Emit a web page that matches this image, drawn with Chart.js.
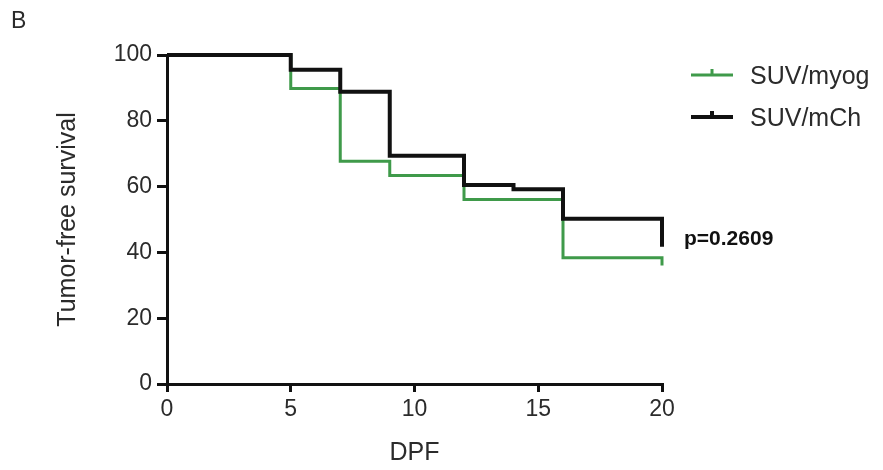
<!DOCTYPE html>
<html>
<head>
<meta charset="utf-8">
<script src="https://cdn.jsdelivr.net/npm/chart.js@4/dist/chart.umd.min.js"></script>
<style>
  html, body { margin: 0; padding: 0; background: #fff; }
  #wrap { width: 883px; height: 470px; position: relative; }
</style>
</head>
<body>
<div id="wrap"><canvas id="kmChart"></canvas></div>
<script>
// survival steps (day, % tumor-free)
const myogDays = [0, 5, 7, 9, 12, 16, 20];
const myogSurvival = [100, 89.8, 67.7, 63.4, 56.1, 38.4, 36.0];
const mchDays = [0, 5, 7, 9, 12, 14, 16, 20];
const mchSurvival = [100, 95.5, 88.8, 69.4, 60.5, 59.2, 50.2, 41.7];

const xTicks = [0, 5, 10, 15, 20];
const yTicks = [0, 20, 40, 60, 80, 100];
const pValueText = 'p=0.2609';
const panelLetter = 'B';

const greenColor = '#3f9a4a';
const blackColor = '#111111';
const textColor = '#2b2b2b';

function toPoints(days, values) {
    return days.map(function (d, i) { return { x: d, y: values[i] }; });
}

// legend, panel letter and p value drawn next to the plot
const extrasPlugin = {
    id: 'extras',
    afterDraw: function (chart) {
        const ctx = chart.ctx;
        const area = chart.chartArea;
        ctx.save();
        ctx.fillStyle = textColor;
        ctx.font = '23px "Liberation Sans", Arial, sans-serif';
        ctx.textBaseline = 'top';
        ctx.fillText(panelLetter, 11, 10);

        // legend
        const legendOrder = [1, 0];
        legendOrder.forEach(function (dsIndex, row) {
            const ds = chart.data.datasets[dsIndex];
            const y = area.top + 20 + row * 42;
            const x0 = area.right + 29;
            ctx.strokeStyle = ds.borderColor;
            ctx.lineWidth = ds.borderWidth;
            ctx.beginPath();
            ctx.moveTo(x0, y);
            ctx.lineTo(x0 + 42, y);
            ctx.moveTo(x0 + 21, y);
            ctx.lineTo(x0 + 21, y - 6);
            ctx.stroke();
            ctx.fillStyle = textColor;
            ctx.font = '25px "Liberation Sans", Arial, sans-serif';
            ctx.textBaseline = 'middle';
            ctx.fillText(ds.label, x0 + 59, y + 2);
        });

        // p value
        ctx.fillStyle = '#111';
        ctx.font = 'bold 21px "Liberation Sans", Arial, sans-serif';
        ctx.textBaseline = 'middle';
        ctx.fillText(pValueText, area.right + 22, chart.scales.y.getPixelForValue(44));
        ctx.restore();
    }
};

document.addEventListener('DOMContentLoaded', function () {
    const ctx = document.getElementById('kmChart').getContext('2d');
    new Chart(ctx, {
        type: 'line',
        data: {
            datasets: [{
                label: 'SUV/mCh',
                data: toPoints(mchDays, mchSurvival),
                borderColor: blackColor,
                borderWidth: 4,
                stepped: 'before',
                pointRadius: 0,
                fill: false,
                order: 0,
                clip: false
            }, {
                label: 'SUV/myog',
                data: toPoints(myogDays, myogSurvival),
                borderColor: greenColor,
                borderWidth: 3,
                stepped: 'before',
                pointRadius: 0,
                fill: false,
                order: 1,
                clip: false
            }]
        },
        options: {
            responsive: true,
            maintainAspectRatio: false,
            animation: false,
            layout: { padding: { top: 55, right: 221, left: 0, bottom: 0 } },
            plugins: {
                legend: { display: false },
                tooltip: { enabled: false }
            },
            scales: {
                x: {
                    type: 'linear',
                    min: 0,
                    max: 20,
                    afterBuildTicks: function (scale) {
                        scale.ticks = xTicks.map(function (v) { return { value: v }; });
                    },
                    afterFit: function (scale) { scale.height = 86; },
                    grid: {
                        drawOnChartArea: false,
                        drawTicks: true,
                        tickLength: 8,
                        color: blackColor,
                        lineWidth: 3
                    },
                    border: { display: true, color: blackColor, width: 3 },
                    ticks: {
                        color: textColor,
                        padding: 4,
                        maxRotation: 0,
                        font: { family: '"Liberation Sans", Arial, sans-serif', size: 23 }
                    },
                    title: {
                        display: true,
                        text: 'DPF',
                        color: textColor,
                        padding: { top: 4, bottom: 2 },
                        font: { family: '"Liberation Sans", Arial, sans-serif', size: 25 }
                    }
                },
                y: {
                    type: 'linear',
                    min: 0,
                    max: 100,
                    afterBuildTicks: function (scale) {
                        scale.ticks = yTicks.map(function (v) { return { value: v }; });
                    },
                    afterFit: function (scale) { scale.width = 167; },
                    grid: {
                        drawOnChartArea: false,
                        drawTicks: true,
                        tickLength: 10,
                        color: blackColor,
                        lineWidth: 3
                    },
                    border: { display: true, color: blackColor, width: 3 },
                    ticks: {
                        color: textColor,
                        padding: 5,
                        font: { family: '"Liberation Sans", Arial, sans-serif', size: 23 }
                    },
                    title: {
                        display: true,
                        text: 'Tumor-free survival',
                        color: textColor,
                        padding: { top: 53, bottom: 0 },
                        font: { family: '"Liberation Sans", Arial, sans-serif', size: 25 }
                    }
                }
            }
        },
        plugins: [extrasPlugin]
    });
});
</script>
</body>
</html>
